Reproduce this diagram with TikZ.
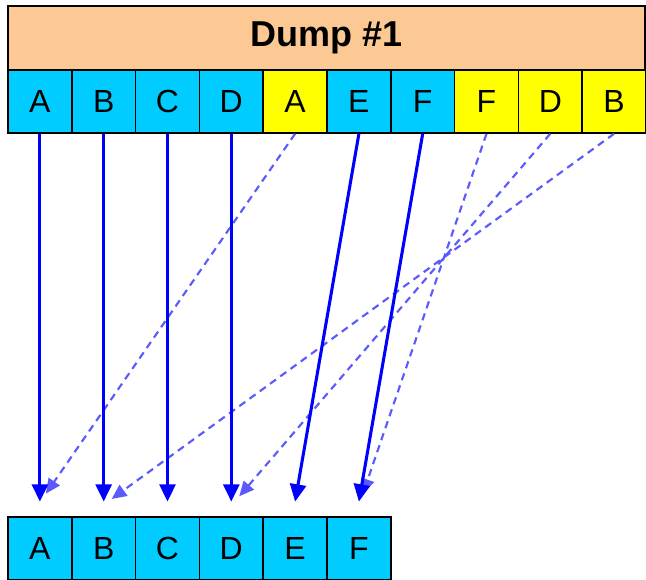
\documentclass[tikz,border=0pt]{standalone}
\usepackage{fontspec}
\setmainfont{Liberation Sans}
\usetikzlibrary{arrows.meta}
\definecolor{peach}{HTML}{FCC995}
\definecolor{cyanc}{HTML}{00CCFF}
\definecolor{yel}{HTML}{FFFF00}
\definecolor{dblue}{HTML}{5A5AFF}
\tikzset{
  cell/.style={draw=black, line width=1.1pt, minimum width=47.85pt, minimum height=47.25pt, inner sep=0pt, font=\fontsize{24}{24}\selectfont},
  hdrbox/.style={draw=black, line width=1.1pt, fill=peach, minimum width=477.75pt, minimum height=48pt, inner sep=0pt, font=\fontsize{27}{27}\selectfont\bfseries},
  solidarr/.style={draw=blue, line width=2.3pt, -{Triangle[length=13pt,width=12pt]}},
  dasharr/.style={draw=dblue, line width=1.6pt, dash pattern=on 5.5pt off 4pt, -{Triangle[length=11pt,width=10pt]}}
}
\begin{document}
\begin{tikzpicture}[x=0.75pt,y=-0.75pt]
\useasboundingbox (0,0) rectangle (646,580);
\fill[white] (0,0) rectangle (646,580);
% header
\node[hdrbox] (hdr) at (326.5,38) {Dump \#1};
% top row
\foreach \L/\C [count=\i from 0] in {A/cyanc,B/cyanc,C/cyanc,D/cyanc,A/yel,E/cyanc,F/cyanc,F/yel,D/yel,B/yel}{
  \node[cell, fill=\C] (t\i) at ({8+31.9+63.8*\i},101.5) {\L};
}
% bottom row
\foreach \L [count=\i from 0] in {A,B,C,D,E,F}{
  \node[cell, fill=cyanc] (b\i) at ({8+31.9+63.8*\i},548.5) {\L};
}
% dashed arrows
\draw[dasharr] (t4.south) -- ([xshift=4.5pt,yshift=17pt]b0.north);
\draw[dasharr] (t9.south) -- ([xshift=6pt,yshift=13pt]b1.north);
\draw[dasharr] (t8.south) -- ([xshift=6pt,yshift=15pt]b3.north);
\draw[dasharr] (t7.south) -- ([xshift=3pt,yshift=17pt]b5.north);
% solid arrows
\draw[solidarr] (t0.south) -- ([yshift=11pt]b0.north);
\draw[solidarr] (t1.south) -- ([yshift=11pt]b1.north);
\draw[solidarr] (t2.south) -- ([yshift=11pt]b2.north);
\draw[solidarr] (t3.south) -- ([yshift=11pt]b3.north);
\draw[solidarr] (t5.south) -- ([yshift=11pt]b4.north);
\draw[solidarr] (t6.south) -- ([yshift=11pt]b5.north);
\end{tikzpicture}
\end{document}
